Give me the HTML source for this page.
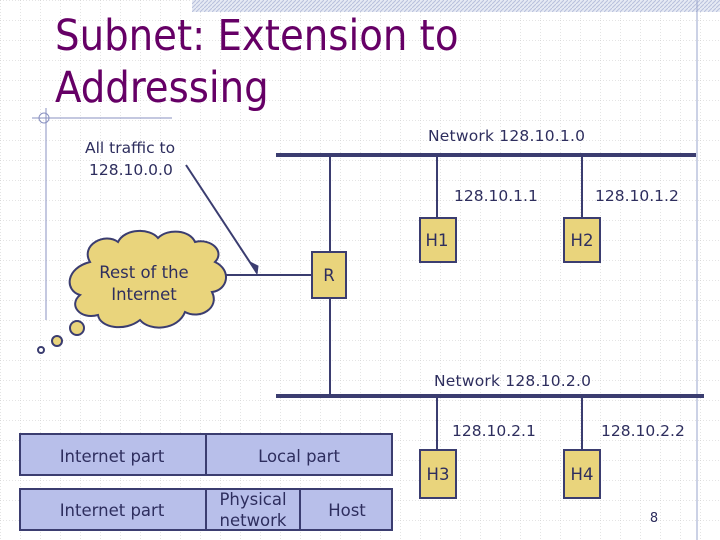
<!DOCTYPE html>
<html><head><meta charset="utf-8"><style>
body{margin:0;width:720px;height:540px;overflow:hidden;background:#fff;font-family:"DejaVu Sans","Liberation Sans",sans-serif;}
</style></head><body>
<svg width="720" height="540" xmlns="http://www.w3.org/2000/svg" style="position:absolute;left:0;top:0">
<defs>
<pattern id="g" width="20" height="20" patternUnits="userSpaceOnUse">
<path d="M0 0H20M0 0V20" stroke="#c8c8c8" stroke-width="1" stroke-dasharray="1,2" fill="none"/>
</pattern>
<pattern id="h" width="4" height="4" patternUnits="userSpaceOnUse">
<rect width="4" height="4" fill="#e6eaf4"/><path d="M0 4L4 0" stroke="#b8c0dc" stroke-width="1"/>
</pattern>
</defs>
<rect width="720" height="540" fill="url(#g)"/>
<rect x="192" y="0" width="528" height="12" fill="url(#h)"/>
<line x1="697" y1="0" x2="697" y2="540" stroke="#9aa4cc" stroke-width="1"/>
<line x1="32" y1="118" x2="172" y2="118" stroke="#8890c0" stroke-width="1"/>
<line x1="46" y1="108" x2="46" y2="320" stroke="#8890c0" stroke-width="1"/>
<circle cx="44" cy="118" r="5" fill="none" stroke="#8890c0"/>
<text x="55" y="50" font-size="43" fill="#660066" font-family="DejaVu Sans Condensed,DejaVu Sans,sans-serif">Subnet: Extension to</text>
<text x="55" y="102" font-size="43" fill="#660066" font-family="DejaVu Sans Condensed,DejaVu Sans,sans-serif">Addressing</text>
<g fill="#2e2e5e" font-size="15.5" font-family="DejaVu Sans,sans-serif">
<text x="428" y="141" textLength="157">Network 128.10.1.0</text>
<text x="85" y="153">All traffic to</text>
<text x="89" y="175">128.10.0.0</text>
<text x="454" y="201">128.10.1.1</text>
<text x="595" y="201">128.10.1.2</text>
<text x="434" y="386" textLength="157">Network 128.10.2.0</text>
<text x="452" y="436">128.10.2.1</text>
<text x="601" y="436">128.10.2.2</text>
</g>
<g stroke="#3b3d70" fill="none">
<line x1="276" y1="155" x2="696" y2="155" stroke-width="4"/>
<line x1="276" y1="396" x2="704" y2="396" stroke-width="4"/>
<line x1="437" y1="155" x2="437" y2="220" stroke-width="2"/>
<line x1="582" y1="155" x2="582" y2="220" stroke-width="2"/>
<line x1="330" y1="155" x2="330" y2="396" stroke-width="2"/>
<line x1="437" y1="396" x2="437" y2="450" stroke-width="2"/>
<line x1="582" y1="396" x2="582" y2="450" stroke-width="2"/>
<line x1="222" y1="275" x2="312" y2="275" stroke-width="2"/>
<line x1="186" y1="165" x2="257" y2="273" stroke-width="2"/>
<path d="M257 274 L250 262 L258 266 Z" fill="#3b3d70" stroke-width="1"/>
</g>
<g fill="#e9d47c" stroke="#3b3d70" stroke-width="2">
<path d="M90 262 C80 245 105 232 118 242 C125 228 150 228 158 238 C168 228 190 230 195 242 C212 238 225 252 215 262 C232 270 228 290 212 292 C220 308 200 320 185 312 C178 330 150 332 140 320 C125 332 100 328 98 315 C80 320 68 305 80 295 C64 290 66 268 90 262 Z"/>
<rect x="420" y="218" width="36" height="44"/>
<rect x="564" y="218" width="36" height="44"/>
<rect x="312" y="252" width="34" height="46"/>
<rect x="420" y="450" width="36" height="48"/>
<rect x="564" y="450" width="36" height="48"/>
<circle cx="77" cy="328" r="7"/>
<circle cx="57" cy="341" r="5"/>
<circle cx="41" cy="350" r="3" fill="#fff"/>
</g>
<g fill="#b8bfea" stroke="#3b3d70" stroke-width="2">
<rect x="20" y="434" width="186" height="41"/>
<rect x="206" y="434" width="186" height="41"/>
<rect x="20" y="489" width="186" height="41"/>
<rect x="206" y="489" width="94" height="41"/>
<rect x="300" y="489" width="92" height="41"/>
</g>
<g fill="#2e2e5e" font-size="16.5" font-family="DejaVu Sans,sans-serif" text-anchor="middle">
<text x="144" y="278">Rest of the</text>
<text x="144" y="300">Internet</text>
<text x="437" y="246">H1</text>
<text x="582" y="246">H2</text>
<text x="329" y="281">R</text>
<text x="438" y="480">H3</text>
<text x="582" y="480">H4</text>
<text x="112" y="462">Internet part</text>
<text x="299" y="462">Local part</text>
<text x="112" y="516">Internet part</text>
<text x="253" y="505">Physical</text>
<text x="253" y="526">network</text>
<text x="347" y="516">Host</text>
<text x="654" y="522" font-size="13">8</text>
</g>
</svg>
</body></html>
